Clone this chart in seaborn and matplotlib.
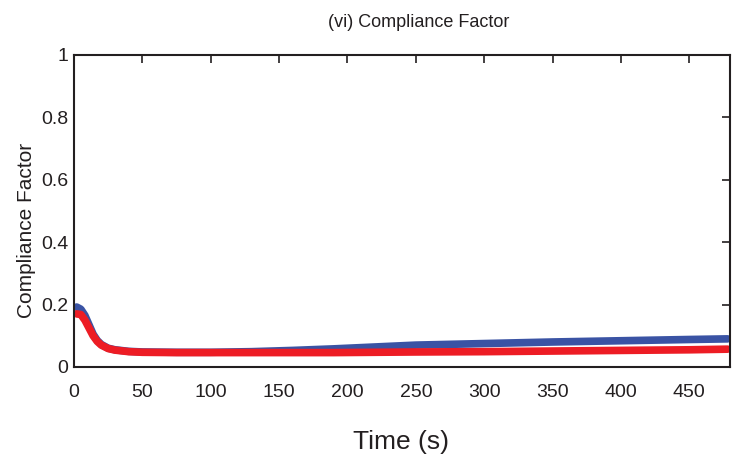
import matplotlib
matplotlib.use("Agg")
import matplotlib.pyplot as plt
import seaborn as sns
import pandas as pd

# Compliance factor traces sampled over time
time_s = [2, 5, 8, 11, 14, 17, 20, 25, 30, 40, 50, 75, 100, 130, 160, 190, 220, 250, 300, 350, 400, 450, 478]
blue_cf = [0.192, 0.185, 0.165, 0.135, 0.105, 0.085, 0.072, 0.060, 0.055, 0.050, 0.048, 0.047, 0.047, 0.049, 0.053, 0.058, 0.064, 0.070, 0.075, 0.080, 0.084, 0.088, 0.090]
red_cf = [0.170, 0.168, 0.150, 0.125, 0.100, 0.082, 0.070, 0.059, 0.054, 0.049, 0.047, 0.046, 0.046, 0.046, 0.046, 0.046, 0.047, 0.048, 0.049, 0.051, 0.053, 0.055, 0.057]

sns.set_style("white")
plt.rcParams["font.family"] = ["Liberation Sans Narrow", "Liberation Sans", "DejaVu Sans"]

df = pd.DataFrame({"t": time_s + time_s,
                   "cf": blue_cf + red_cf,
                   "series": ["blue"] * len(time_s) + ["red"] * len(time_s)})

fig = plt.figure(figsize=(7.51, 4.61), dpi=100)
ax = fig.add_axes([0.0985, 0.204, 0.874, 0.677])
sns.lineplot(data=df, x="t", y="cf", hue="series",
             palette={"blue": "#3a53a4", "red": "#ed1c24"},
             linewidth=5.5, legend=False, ax=ax)

ax.set_xlim(0, 480)
ax.set_ylim(0, 1)
ax.set_xticks(range(0, 451, 50))
ax.set_yticks([0, 0.2, 0.4, 0.6, 0.8, 1])
ax.set_yticklabels(["0", "0.2", "0.4", "0.6", "0.8", "1"])
ax.tick_params(direction="in", length=6, width=1.2, top=True, right=True,
               labelsize=14, colors="#231f20")
ax.tick_params(axis="y", pad=4)
ax.tick_params(axis="x", pad=12)
for s in ax.spines.values():
    s.set_linewidth(1.5)
    s.set_color("#231f20")
    s.set_visible(True)

ax.set_title("(vi) Compliance Factor", fontsize=13, pad=20, x=0.525, color="#231f20")
ax.set_xlabel("Time (s)", fontsize=19, color="#231f20")
ax.xaxis.set_label_coords(0.498, -0.202)
ax.set_ylabel("Compliance Factor", fontsize=15, color="#231f20")
ax.yaxis.set_label_coords(-0.058, 0.436)

fig.savefig("out.png", dpi=100)
